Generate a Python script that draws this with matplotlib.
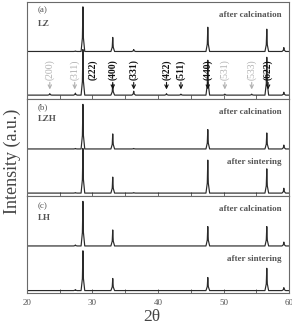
import matplotlib.pyplot as plt

# peak positions (2theta) shared by all patterns
peak_pos = [23.5, 27.4, 28.55, 33.1, 36.3, 41.3, 43.5, 47.6, 50.2, 54.3, 56.6, 59.2]

# relative peak heights (fraction of panel height), one list per trace
lz_calc   = [0.0, 0.005, 0.46, 0.145, 0.02, 0.0, 0.0, 0.25, 0.0, 0.0, 0.23, 0.04]
lz_lower  = [0.015, 0.02, 0.47, 0.115, 0.04, 0.015, 0.01, 0.36, 0.01, 0.01, 0.39, 0.03]
lzh_calc  = [0.0, 0.005, 0.46, 0.155, 0.005, 0.0, 0.0, 0.2, 0.0, 0.0, 0.165, 0.04]
lzh_sint  = [0.0, 0.005, 0.46, 0.165, 0.005, 0.0, 0.0, 0.34, 0.0, 0.0, 0.25, 0.05]
lh_calc   = [0.0, 0.01, 0.46, 0.165, 0.0, 0.0, 0.0, 0.2, 0.0, 0.0, 0.2, 0.04]
lh_sint   = [0.0, 0.01, 0.41, 0.125, 0.0, 0.0, 0.0, 0.135, 0.0, 0.0, 0.23, 0.03]

# hkl labels for LZ pattern
hkl_labels = ["(200)", "(311)", "(222)", "(400)", "(331)", "(422)", "(511)",
              "(440)", "(531)", "(533)", "(622)"]
hkl_pos = [23.5, 27.3, 30.0, 33.1, 36.3, 41.3, 43.5, 47.6, 50.2, 54.3, 56.8]
hkl_faint = [True, True, False, False, False, False, False, False, True, True, False]

panels = [
    ("(a)", "LZ", lz_calc, 0.49, lz_lower, 0.04, "after calcination", None),
    ("(b)", "LZH", lzh_calc, 0.485, lzh_sint, 0.03, "after calcination", "after sintering"),
    ("(c)", "LH", lh_calc, 0.485, lh_sint, 0.025, "after calcination", "after sintering"),
]

plt.rcParams['font.family'] = ['Liberation Serif', 'DejaVu Serif']

fig = plt.figure(figsize=(2.92, 3.22), dpi=100)
left, width = 0.092, 0.898
h = 97 / 322
bottom0 = 1 - 293 / 322

line_col = '#2a2a2a'
spine_col = '#6a6a6a'
text_col = '#555555'


def trace(ax, heights, base):
    w = 0.28
    xs, ys = [20], [base]
    for p, hh in zip(peak_pos, heights):
        if hh <= 0:
            continue
        xs += [p - w, p - 0.08, p, p + 0.08, p + w]
        ys += [base, base + hh * 0.3, base + hh, base + hh * 0.3, base]
    xs.append(60)
    ys.append(base)
    ax.plot(xs, ys, color=line_col, lw=0.85)


for i, (tag, name, up, ub, lo, lb, t1, t2) in enumerate(panels):
    ax = fig.add_axes([left, bottom0 + (2 - i) * h, width, h])
    trace(ax, up, ub)
    trace(ax, lo, lb)
    ax.set_xlim(20, 60)
    ax.set_ylim(0, 1)
    ax.set_yticks([])
    ax.set_xticks([20, 25, 30, 35, 40, 45, 50, 55, 60])
    ax.tick_params(axis='x', direction='in', length=3, width=0.7, color=spine_col,
                   labelsize=6.5, labelcolor=text_col, pad=4)
    for s in ax.spines.values():
        s.set_color(spine_col)
        s.set_linewidth(0.8)
    if i < 2:
        ax.set_xticklabels([])
    else:
        ax.set_xticklabels(['20', '', '30', '', '40', '', '50', '', '60'])
    ax.text(21.7, 0.92 if i < 2 else 0.9, tag, fontsize=6.5, color=text_col, va='center')
    ax.text(21.7, 0.77 if i != 1 else 0.79, name, fontsize=6.5, color=text_col,
            va='center', fontweight='bold')
    ax.text(58.8, 0.87, t1, fontsize=6.5, color=text_col, ha='right', va='center',
            fontweight='bold')
    if t2:
        ax.text(58.8, 0.355, t2, fontsize=6.5, color=text_col, ha='right', va='center',
                fontweight='bold')
    if i == 0:
        for lab, p, faint in zip(hkl_labels, hkl_pos, hkl_faint):
            c = '#b0b0b0' if faint else '#111111'
            fw = 'normal' if faint else 'bold'
            ax.text(p, 0.2, lab, rotation=90, fontsize=7, color=c, fontweight=fw,
                    ha='center', va='bottom')
            if lab != "(222)":
                ax.annotate('', xy=(p, 0.07), xytext=(p, 0.2),
                            arrowprops=dict(arrowstyle='->', color=c, lw=0.8,
                                            mutation_scale=6))

fig.text(0.042, 0.5, 'Intensity (a.u.)', rotation=90, fontsize=13, color='#444444',
         ha='center', va='center')
fig.text(0.52, -0.008, '2θ', fontsize=12.5, color='#444444', ha='center', va='bottom')

fig.savefig('out.png', dpi=100)
